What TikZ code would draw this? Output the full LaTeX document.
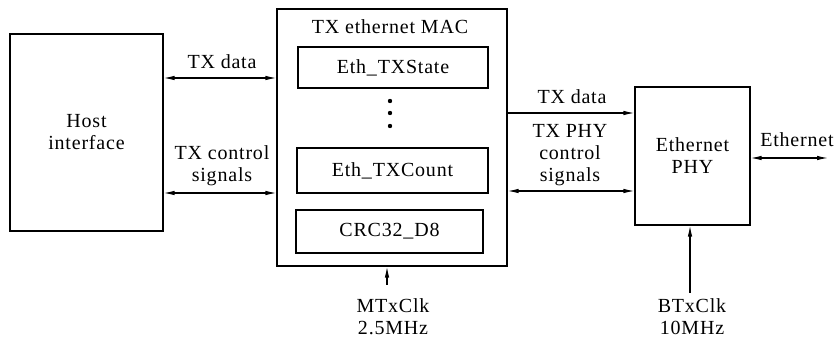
\documentclass[tikz,border=0pt]{standalone}
\usepackage{fontspec}
\setmainfont{Liberation Serif}
\usetikzlibrary{arrows.meta}
\begin{document}
\begin{tikzpicture}[x=1pt,y=-1pt,
  every node/.style={font=\fontsize{20}{22}\selectfont\addfontfeature{LetterSpace=4}, align=center, inner sep=0pt},
  box/.style={draw, line width=1.1pt},
  conn/.style={line width=1.1pt},
  tip/.style={{Latex[length=11pt,width=4.5pt]}-{Latex[length=11pt,width=4.5pt]}},
  tipr/.style={-{Latex[length=11pt,width=4.5pt]}}]
\useasboundingbox (0,0) rectangle (836,339);
\node[box, minimum width=153pt, minimum height=197pt] (host) at (86.5,132.5) {Host\\interface};
\node[box, minimum width=230pt, minimum height=257pt] (mac) at (392,137.5) {};
\node (title) at (390,27) {TX ethernet MAC};
\node[box, minimum width=190pt, minimum height=41pt] (state) at (393,67.5) {Eth\_TXState};
\node[box, minimum width=191pt, minimum height=45pt] (count) at (392.5,170.5) {Eth\_TXCount};
\node[box, minimum width=187pt, minimum height=43pt] (crc) at (389.5,231.5) {CRC32\_D8};
\fill (390,101) circle (2.2pt) (390,113) circle (2.2pt) (390,126) circle (2.2pt);
\node[box, minimum width=115pt, minimum height=138pt] (phy) at (692.5,156) {Ethernet\\PHY};
\coordinate (y1) at (0,78);
\coordinate (y2) at (0,193);
\coordinate (y3) at (0,113);
\coordinate (y4) at (0,191);
\coordinate (y5) at (0,158);
\coordinate (eth) at (828,158);
\coordinate (c1) at (387,285);
\coordinate (c2) at (690,293);
\draw[conn,tip] (host.east |- y1) -- (mac.west |- y1);
\draw[conn,tip] (host.east |- y2) -- (mac.west |- y2);
\draw[conn,tipr] (mac.east |- y3) -- (phy.west |- y3);
\draw[conn,tip] (mac.east |- y4) -- (phy.west |- y4);
\draw[conn,tip] (phy.east |- y5) -- (eth);
\draw[conn,tipr] (c1) -- (c1 |- mac.south);
\draw[conn,tipr] (c2) -- (c2 |- phy.south);
\node (l1) at (222,62) {TX data};
\node (l2) at (222,166) {TX control\\signals};
\node (l3) at (572,97) {TX data};
\node (l4) at (570,155) {TX PHY\\control\\signals};
\node (l5) at (797,140) {Ethernet};
\node (k1) at (393,317) {MTxClk\\2.5MHz};
\node (k2) at (692,317) {BTxClk\\10MHz};
\end{tikzpicture}
\end{document}
